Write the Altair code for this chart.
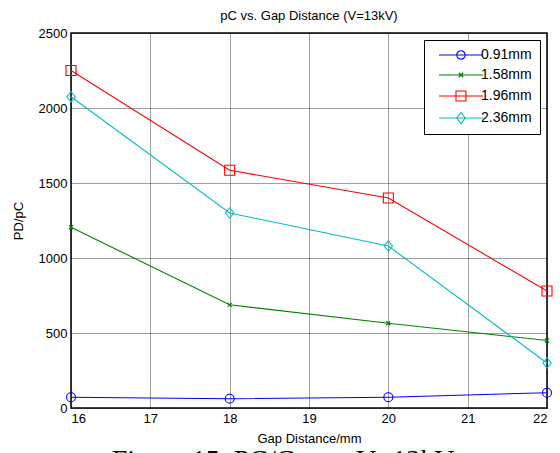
import altair as alt
import pandas as pd

# Gap distance (mm) on the x axis
gap_mm = [16, 18, 20, 22]

# Partial discharge magnitude (pC) for each needle diameter
series_names = ["0.91mm", "1.58mm", "1.96mm", "2.36mm"]
pd_091 = [72, 62, 72, 102]
pd_158 = [1205, 688, 565, 450]
pd_196 = [2250, 1585, 1400, 780]
pd_236 = [2075, 1300, 1080, 300]

series_colors = ["#0000FF", "#008000", "#FF0000", "#00BFBF"]

x_ticks = [16, 17, 18, 19, 20, 21, 22]
y_ticks = [0, 500, 1000, 1500, 2000, 2500]

rows = []
for name, vals in zip(series_names, [pd_091, pd_158, pd_196, pd_236]):
    for g, v in zip(gap_mm, vals):
        rows.append({"gap": g, "pd": v, "series": name})
df = pd.DataFrame(rows)

# marker outlines drawn on the data points
marker_shapes = {
    "0.91mm": "circle",
    "1.58mm": "M-1,-1L1,1M1,-1L-1,1",
    "1.96mm": "square",
    "2.36mm": "M0,-1L0.8,0L0,1L-0.8,0Z",
}
marker_sizes = {"0.91mm": 80, "1.58mm": 16, "1.96mm": 100, "2.36mm": 110}

# legend keys: a short line with the marker on it (unit = half of sqrt(size))
legend_paths = [
    "M-4.4,0H4.4M0.85,0A0.85,0.85 0 1,1 -0.85,0A0.85,0.85 0 1,1 0.85,0",
    "M-4.4,0H4.4M-0.45,-0.45L0.45,0.45M0.45,-0.45L-0.45,0.45",
    "M-4.4,0H4.4M-1,-1H1V1H-1Z",
    "M-4.4,0H4.4M0,-1.1L0.85,0L0,1.1L-0.85,0Z",
]

x_enc = alt.X(
    "gap:Q",
    scale=alt.Scale(domain=[16, 22], nice=False, zero=False),
    axis=alt.Axis(values=x_ticks, title="Gap Distance/mm", format="d"),
)
y_enc = alt.Y(
    "pd:Q",
    scale=alt.Scale(domain=[0, 2500], nice=False),
    axis=alt.Axis(values=y_ticks, title="PD/pC", format="d"),
)
stroke_scale = alt.Scale(domain=series_names, range=series_colors)

base = alt.Chart(df)

lines = base.mark_line(strokeWidth=1.1).encode(
    x=x_enc,
    y=y_enc,
    stroke=alt.Stroke("series:N", scale=stroke_scale, legend=None),
    detail="series:N",
)

point_layers = []
for name in series_names:
    point_layers.append(
        base.transform_filter(alt.datum.series == name)
        .mark_point(filled=False, strokeWidth=1.1, opacity=1)
        .encode(
            x=x_enc,
            y=y_enc,
            stroke=alt.Stroke("series:N", scale=stroke_scale, legend=None),
            shape=alt.value(marker_shapes[name]),
            size=alt.value(marker_sizes[name]),
        )
    )

legend_props = dict(
    title=None,
    orient="none",
    legendX=353,
    legendY=7,
    direction="vertical",
    strokeColor="black",
    fillColor="white",
    padding=8,
    symbolSize=100,
    symbolStrokeWidth=1.1,
    symbolOpacity=1,
    symbolOffset=22,
    labelOffset=13,
    labelFont="Liberation Sans",
    labelFontSize=14,
    labelColor="black",
    rowPadding=6,
    labelLimit=200,
)

# invisible points whose colour/shape scales drive the legend
legend_layer = base.mark_point(filled=False, strokeWidth=0).encode(
    x=x_enc,
    y=y_enc,
    size=alt.value(0),
    color=alt.Color(
        "series:N",
        scale=alt.Scale(domain=series_names, range=series_colors),
        legend=alt.Legend(**legend_props),
    ),
    shape=alt.Shape(
        "series:N",
        scale=alt.Scale(domain=series_names, range=legend_paths),
        legend=alt.Legend(**legend_props),
    ),
)

caption = alt.Chart(pd.DataFrame({"t": ["Figure 15. PC/Gap at V=13kV"]})).mark_text(
    font="Liberation Serif", fontSize=28, color="black", baseline="alphabetic", align="center"
).encode(text="t:N", x=alt.value(212), y=alt.value(436))

chart = (
    alt.layer(legend_layer, lines, *point_layers, caption)
    .properties(
        width=476,
        height=375,
        background="white",
        title=alt.TitleParams(
            "pC vs. Gap Distance (V=13kV)",
            font="Liberation Sans",
            fontSize=13,
            fontWeight="normal",
            color="black",
            offset=4,
        ),
        autosize=alt.AutoSizeParams(type="none"),
        padding={"left": 71, "top": 33, "right": 13, "bottom": 45},
    )
    .configure_view(stroke="black", strokeWidth=1.5)
    .configure_axis(
        grid=True,
        gridColor="#000000",
        gridOpacity=0.75,
        gridDash=[1, 1],
        gridWidth=1,
        domain=False,
        ticks=False,
        labelPadding=4,
        labelFont="Liberation Sans",
        labelFontSize=13,
        labelColor="black",
        titleFont="Liberation Sans",
        titleFontSize=13,
        titleFontWeight="normal",
        titleColor="black",
    )
    .configure_axisX(titlePadding=7)
    .configure_axisY(titlePadding=13)
)

chart.save("out.html", embed_options={"renderer": "svg", "actions": False})
